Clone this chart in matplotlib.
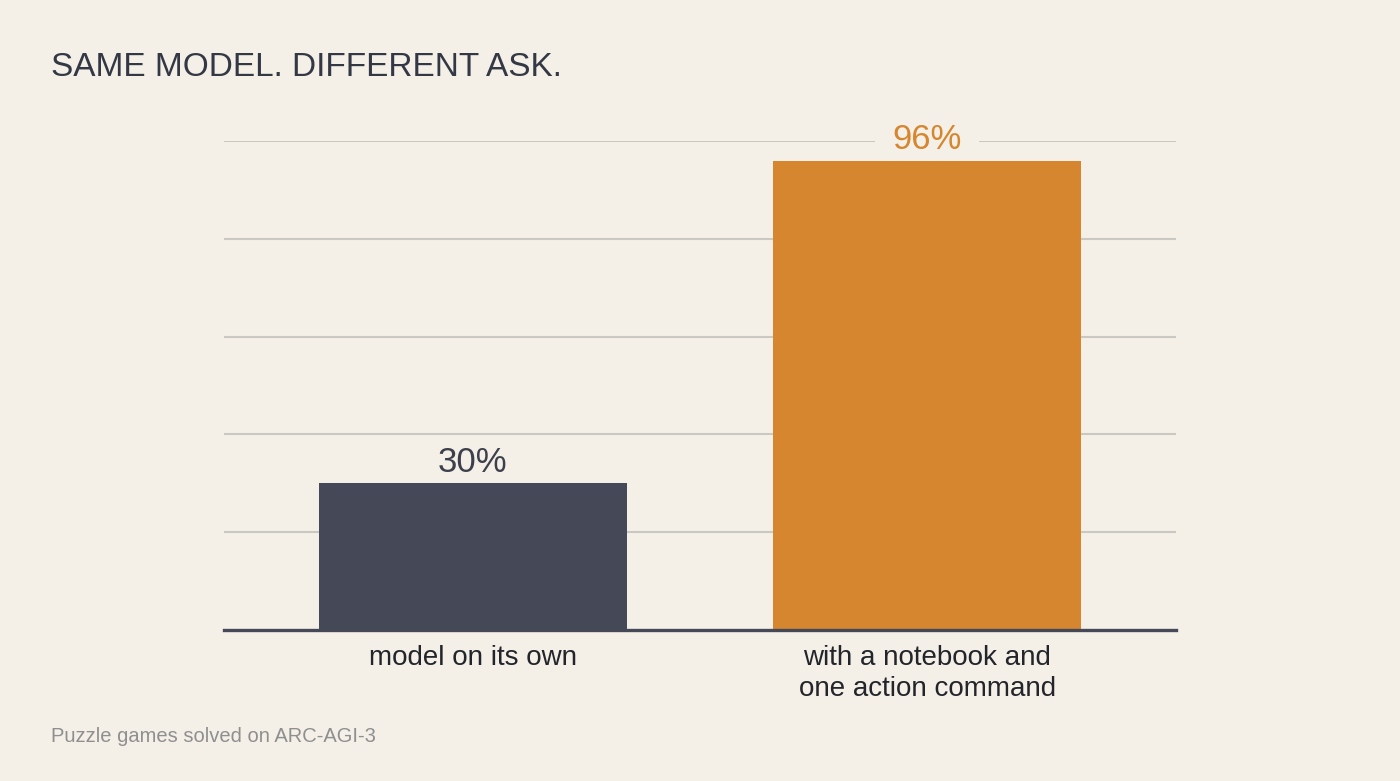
import matplotlib
matplotlib.use("Agg")
import matplotlib.pyplot as plt

categories = ["model on its own", "with a notebook and\none action command"]
values = [30, 96]
value_labels = ["30%", "96%"]
bar_colors = ["#454857", "#D6862E"]
label_colors = ["#3D404C", "#D6862E"]
grid_ticks = [20, 40, 60, 80, 100]

BG = "#F4F0E8"
plt.rcParams["font.family"] = ["Liberation Sans", "DejaVu Sans"]

fig = plt.figure(figsize=(14, 7.81), dpi=100, facecolor=BG)
ax = fig.add_axes([224/1400, 1-630/781, 952/1400, 489/781])
ax.set_facecolor(BG)

x = list(range(len(categories)))
ax.bar(x, values, width=0.678, color=bar_colors, zorder=3)
ax.set_xlim(-0.548, 1.548)
ax.set_ylim(0, 100)

ax.set_yticks(grid_ticks)
ax.yaxis.grid(True, color="#C9C8C3", linewidth=1.5, zorder=0)
ax.set_axisbelow(True)
for s in ["top", "right", "left"]:
    ax.spines[s].set_visible(False)
ax.spines["bottom"].set_color("#454857")
ax.spines["bottom"].set_linewidth(2.4)
ax.spines["bottom"].set_zorder(4)
ax.tick_params(axis="y", left=False, labelleft=False)
ax.tick_params(axis="x", bottom=False, pad=7)
ax.set_xticks(x)
ax.set_xticklabels(categories, fontsize=20, color="#23252B", linespacing=1.25)

top_value = max(values)
for xi, v, lab, c in zip(x, values, value_labels, label_colors):
    box = None
    if v == top_value:
        # break the top gridline behind the label
        box = dict(boxstyle="square,pad=0.5", facecolor=BG, edgecolor="none")
    ax.text(xi, v + 2.4, lab, ha="center", va="baseline", fontsize=25, color=c,
            zorder=2, bbox=box)

fig.text(51/1400, 1-76/781, "SAME MODEL. DIFFERENT ASK.", fontsize=24,
         color="#333844", ha="left", va="baseline")
fig.text(51/1400, 1-742/781, "Puzzle games solved on ARC-AGI-3", fontsize=14.5,
         color="#8F8F8F", ha="left", va="baseline")

fig.savefig("out.png", dpi=100, facecolor=BG)
